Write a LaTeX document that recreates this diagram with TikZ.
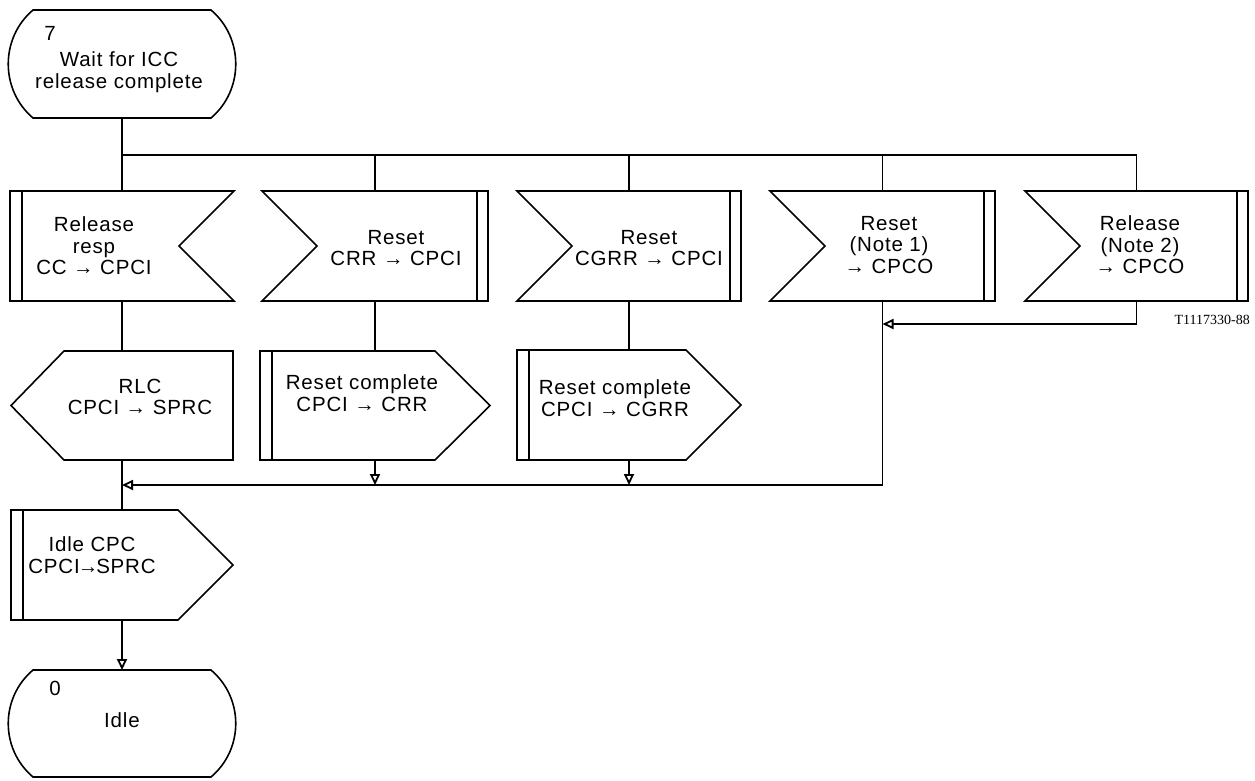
\documentclass[tikz,border=0pt]{standalone}
\usepackage{fontspec}
\setmainfont{Liberation Sans}[LetterSpace=4]
\newfontfamily\labelfont{Liberation Serif}
\usetikzlibrary{arrows.meta,calc}
\newcommand{\drawstatebox}[1]{%
  \draw[outline] ([xshift=25pt]#1.north west) -- ([xshift=-25pt]#1.north east)
    .. controls ([xshift=8pt,yshift=-28pt]#1.north east) and ([xshift=8pt,yshift=28pt]#1.south east) .. ([xshift=-25pt]#1.south east)
    -- ([xshift=25pt]#1.south west)
    .. controls ([xshift=-8pt,yshift=28pt]#1.south west) and ([xshift=-8pt,yshift=-28pt]#1.north west) .. cycle;}
\newcommand{\drawinnotchleft}[1]{%
  \draw[outline] (#1.north west) -- (#1.north east) -- (#1.south east) -- (#1.south west) -- ([xshift=55pt]#1.west) -- cycle;
  \draw[outline] ([xshift=-11pt]#1.north east) -- ([xshift=-11pt]#1.south east);}
\newcommand{\drawinnotchright}[1]{%
  \draw[outline] (#1.north west) -- (#1.north east) -- ([xshift=-55pt]#1.east) -- (#1.south east) -- (#1.south west) -- cycle;
  \draw[outline] ([xshift=12pt]#1.north west) -- ([xshift=12pt]#1.south west);}
\newcommand{\drawoutright}[1]{%
  \draw[outline] (#1.north west) -- ([xshift=-55pt]#1.north east) -- (#1.east) -- ([xshift=-55pt]#1.south east) -- (#1.south west) -- cycle;
  \draw[outline] ([xshift=12pt]#1.north west) -- ([xshift=12pt]#1.south west);}
\newcommand{\drawoutleft}[1]{%
  \draw[outline] ([xshift=53pt]#1.north west) -- (#1.north east) -- (#1.south east) -- ([xshift=53pt]#1.south west) -- (#1.west) -- cycle;}
\begin{document}
\begin{tikzpicture}[x=1pt,y=-1pt,
  area/.style={draw=none, inner sep=0pt, outer sep=0pt, rectangle},
  outline/.style={draw=black, line width=1.6pt, line join=miter},
  txt/.style={align=center, inner sep=0pt, font=\fontsize{20.5}{21.5}\selectfont},
  flow/.style={draw=black, line width=1.6pt},
  arr/.style={flow, -{Triangle[open, length=11pt, width=10pt, line width=1.8pt]}}
]
\useasboundingbox (0,0) rectangle (1255,780);

% states
\node[area, minimum width=228pt, minimum height=108pt] (s7) at (122,64) {};
\drawstatebox{s7}
\node[txt] (s7num) at (50,33) {7};
\node[txt] (s7txt) at (119,72) {Wait for ICC\\release complete};

\node[area, minimum width=228pt, minimum height=107pt] (s0) at (122,723.5) {};
\drawstatebox{s0}
\node[txt] (s0num) at (55,688) {0};
\node[txt] (s0txt) at (122,720) {Idle};

% inputs
\node[area, minimum width=224pt, minimum height=110pt] (in1) at (122,246) {};
\drawinnotchright{in1}
\node[txt] (in1txt) at (94,246) {Release\\resp\\CC → CPCI};

\node[area, minimum width=226pt, minimum height=110pt] (in2) at (375,246) {};
\drawinnotchleft{in2}
\node[txt] (in2txt) at (396,248) {Reset\\CRR → CPCI};

\node[area, minimum width=224pt, minimum height=110pt] (in3) at (629,246) {};
\drawinnotchleft{in3}
\node[txt] (in3txt) at (649,248) {Reset\\CGRR → CPCI};

\node[area, minimum width=225pt, minimum height=110pt] (in4) at (882.5,246) {};
\drawinnotchleft{in4}
\node[txt] (in4txt) at (889,245) {Reset\\(Note 1)\\→ CPCO};

\node[area, minimum width=223pt, minimum height=110pt] (in5) at (1136.5,246) {};
\drawinnotchleft{in5}
\node[txt] (in5txt) at (1140,245) {Release\\(Note 2)\\→ CPCO};

% outputs
\node[area, minimum width=222pt, minimum height=109pt] (out1) at (122,405.5) {};
\drawoutleft{out1}
\node[txt] (out1txt) at (140,397) {RLC\\CPCI → SPRC};

\node[area, minimum width=230pt, minimum height=109pt] (out2) at (375,405.5) {};
\drawoutright{out2}
\node[txt] (out2txt) at (362,393) {Reset complete\\CPCI → CRR};

\node[area, minimum width=224pt, minimum height=110pt] (out3) at (629,405) {};
\drawoutright{out3}
\node[txt] (out3txt) at (615,398) {Reset complete\\CPCI → CGRR};

\node[area, minimum width=222pt, minimum height=110pt] (idle) at (122,565) {};
\drawoutright{idle}
\node[txt] (idletxt) at (92,555) {Idle CPC\\CPCI\kern-2pt→\kern-2ptSPRC};

\node[inner sep=0pt, font=\labelfont\fontsize{14}{16}\selectfont, anchor=east] (fig) at (1250,320) {T1117330-88};

% connectors
\coordinate (split) at (122,155);
\coordinate (merge) at (122,485);
\coordinate (j45) at (882.5,324);
\draw[flow] (s7.south) -- (in1.north);
\draw[flow] (split) -- (split -| in5.north) -- (in5.north);
\draw[flow] (split -| in2.north) -- (in2.north);
\draw[flow] (split -| in3.north) -- (in3.north);
\draw[flow] (split -| in4.north) -- (in4.north);
\draw[flow] (in1.south) -- (out1.north);
\draw[flow] (in2.south) -- (out2.north);
\draw[flow] (in3.south) -- (out3.north);
\draw[flow] (out1.south) -- (idle.north);
\draw[arr] (in5.south) |- (j45);
\draw[arr] (in4.south) |- (merge);
\draw[arr] (out2.south) -- (out2.south |- merge);
\draw[arr] (out3.south) -- (out3.south |- merge);
\draw[arr] (idle.south) -- (s0.north);
\end{tikzpicture}
\end{document}
